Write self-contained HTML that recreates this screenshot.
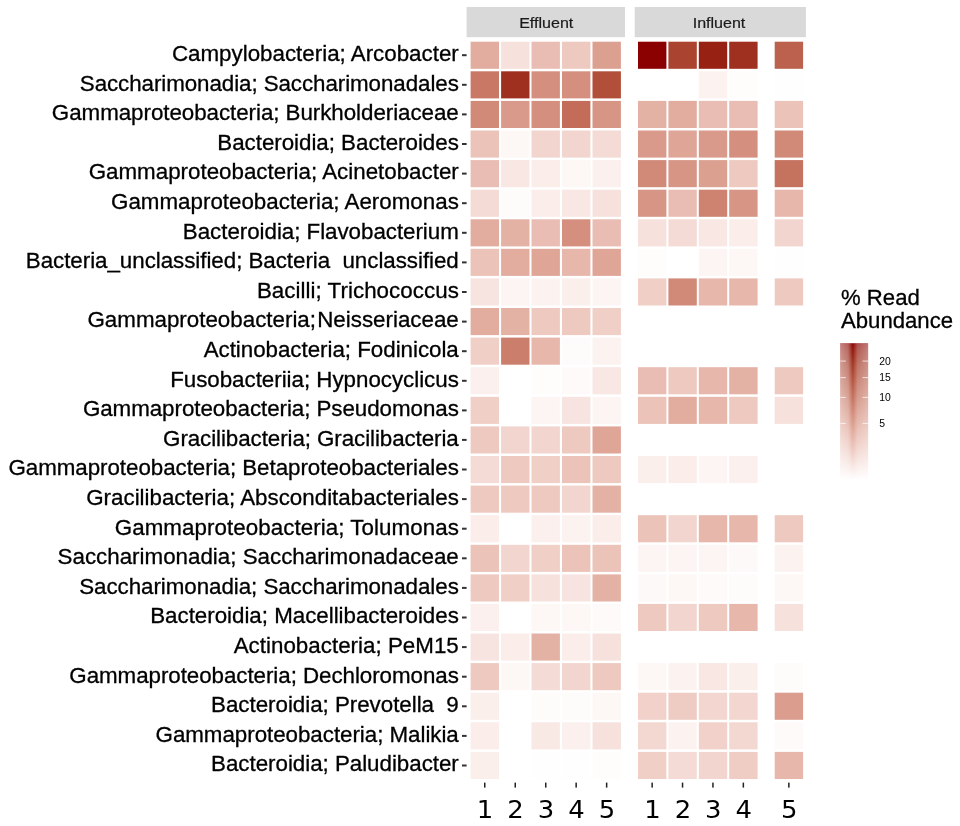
<!DOCTYPE html>
<html lang="en">
<head>
<meta charset="utf-8">
<title>Heatmap</title>
<style>
html,body{margin:0;padding:0;background:#fff;}
body{width:960px;height:826px;overflow:hidden;}
svg{display:block;}
text{font-family:"Liberation Sans",Arial,Helvetica,sans-serif;fill:#000;}
.yl{font-size:22.35px;white-space:pre;text-anchor:end;stroke:#000;stroke-width:0.3px;}
.st{font-size:15.3px;text-anchor:middle;fill:#1a1a1a;stroke:#1a1a1a;stroke-width:0.2px;}
.xl{font-family:"DejaVu Sans",Verdana,sans-serif;font-size:24px;text-anchor:middle;}
.lt{font-size:22.15px;stroke:#000;stroke-width:0.3px;}
.lk{font-size:10.4px;}
</style>
</head>
<body>
<svg width="960" height="826" viewBox="0 0 960 826">
<defs><linearGradient id="lg" x1="0" y1="1" x2="0" y2="0"><stop offset="0.000" stop-color="#FFFFFF"/><stop offset="0.050" stop-color="#FCF3F1"/><stop offset="0.100" stop-color="#F8E7E3"/><stop offset="0.150" stop-color="#F4DBD5"/><stop offset="0.200" stop-color="#F0CFC7"/><stop offset="0.250" stop-color="#EBC3B9"/><stop offset="0.300" stop-color="#E7B7AC"/><stop offset="0.350" stop-color="#E2AC9F"/><stop offset="0.400" stop-color="#DCA091"/><stop offset="0.450" stop-color="#D79585"/><stop offset="0.500" stop-color="#D18978"/><stop offset="0.550" stop-color="#CB7E6B"/><stop offset="0.600" stop-color="#C5725F"/><stop offset="0.650" stop-color="#BF6753"/><stop offset="0.700" stop-color="#B85B47"/><stop offset="0.750" stop-color="#B14F3B"/><stop offset="0.800" stop-color="#AA4330"/><stop offset="0.850" stop-color="#A23724"/><stop offset="0.900" stop-color="#9B2919"/><stop offset="0.950" stop-color="#93190D"/><stop offset="1.000" stop-color="#8B0000"/></linearGradient><linearGradient id="lh" x1="0" y1="0" x2="1" y2="0"><stop offset="0" stop-color="#fff" stop-opacity="0.5"/><stop offset="0.28" stop-color="#fff" stop-opacity="0.36"/><stop offset="0.45" stop-color="#fff" stop-opacity="0"/><stop offset="0.62" stop-color="#fff" stop-opacity="0.3"/><stop offset="1" stop-color="#fff" stop-opacity="0.46"/></linearGradient></defs>
<rect x="0" y="0" width="960" height="826" fill="#fff"/>
<rect x="466.6" y="7" width="158.4" height="30.2" fill="#D9D9D9"/>
<rect x="634.7" y="7" width="171.2" height="30.2" fill="#D9D9D9"/>
<text class="st" transform="translate(546.2,27.9) scale(1.05,1)">Effluent</text>
<text class="st" transform="translate(719.0,27.9) scale(1.05,1)">Influent</text>
<g>
<text class="yl" x="458.8" y="61.0" textLength="286.89" lengthAdjust="spacing" xml:space="preserve">Campylobacteria; Arcobacter</text>
<rect x="462" y="54.2" width="4.6" height="2" fill="#333"/>
<text class="yl" x="458.8" y="90.6" textLength="379.00" lengthAdjust="spacing" xml:space="preserve">Saccharimonadia; Saccharimonadales</text>
<rect x="462" y="83.8" width="4.6" height="2" fill="#333"/>
<text class="yl" x="458.8" y="120.2" textLength="406.93" lengthAdjust="spacing" xml:space="preserve">Gammaproteobacteria; Burkholderiaceae</text>
<rect x="462" y="113.4" width="4.6" height="2" fill="#333"/>
<text class="yl" x="458.8" y="149.8" textLength="241.50" lengthAdjust="spacing" xml:space="preserve">Bacteroidia; Bacteroides</text>
<rect x="462" y="143.0" width="4.6" height="2" fill="#333"/>
<text class="yl" x="458.8" y="179.4" textLength="370.12" lengthAdjust="spacing" xml:space="preserve">Gammaproteobacteria; Acinetobacter</text>
<rect x="462" y="172.6" width="4.6" height="2" fill="#333"/>
<text class="yl" x="458.8" y="209.0" textLength="347.75" lengthAdjust="spacing" xml:space="preserve">Gammaproteobacteria; Aeromonas</text>
<rect x="462" y="202.2" width="4.6" height="2" fill="#333"/>
<text class="yl" x="458.8" y="238.6" textLength="275.95" lengthAdjust="spacing" xml:space="preserve">Bacteroidia; Flavobacterium</text>
<rect x="462" y="231.8" width="4.6" height="2" fill="#333"/>
<text class="yl" x="458.8" y="268.2" textLength="433.00" lengthAdjust="spacing" xml:space="preserve">Bacteria_unclassified; Bacteria  unclassified</text>
<rect x="462" y="261.4" width="4.6" height="2" fill="#333"/>
<text class="yl" x="458.8" y="297.8" textLength="201.87" lengthAdjust="spacing" xml:space="preserve">Bacilli; Trichococcus</text>
<rect x="462" y="291.0" width="4.6" height="2" fill="#333"/>
<text class="yl" x="458.8" y="327.4" xml:space="preserve">Gammaproteobacteria; <tspan dx="-5.0">Neisseriaceae</tspan></text>
<rect x="462" y="320.6" width="4.6" height="2" fill="#333"/>
<text class="yl" x="458.8" y="357.0" textLength="255.16" lengthAdjust="spacing" xml:space="preserve">Actinobacteria; Fodinicola</text>
<rect x="462" y="350.2" width="4.6" height="2" fill="#333"/>
<text class="yl" x="458.8" y="386.6" textLength="288.66" lengthAdjust="spacing" xml:space="preserve">Fusobacteriia; Hypnocyclicus</text>
<rect x="462" y="379.8" width="4.6" height="2" fill="#333"/>
<text class="yl" x="458.8" y="416.2" textLength="375.88" lengthAdjust="spacing" xml:space="preserve">Gammaproteobacteria; Pseudomonas</text>
<rect x="462" y="409.4" width="4.6" height="2" fill="#333"/>
<text class="yl" x="458.8" y="445.7" textLength="295.73" lengthAdjust="spacing" xml:space="preserve">Gracilibacteria; Gracilibacteria</text>
<rect x="462" y="438.9" width="4.6" height="2" fill="#333"/>
<text class="yl" x="458.8" y="475.3" textLength="450.39" lengthAdjust="spacing" xml:space="preserve">Gammaproteobacteria; Betaproteobacteriales</text>
<rect x="462" y="468.5" width="4.6" height="2" fill="#333"/>
<text class="yl" x="458.8" y="504.9" textLength="372.59" lengthAdjust="spacing" xml:space="preserve">Gracilibacteria; Absconditabacteriales</text>
<rect x="462" y="498.1" width="4.6" height="2" fill="#333"/>
<text class="yl" x="458.8" y="534.5" textLength="344.07" lengthAdjust="spacing" xml:space="preserve">Gammaproteobacteria; Tolumonas</text>
<rect x="462" y="527.7" width="4.6" height="2" fill="#333"/>
<text class="yl" x="458.8" y="564.1" textLength="401.19" lengthAdjust="spacing" xml:space="preserve">Saccharimonadia; Saccharimonadaceae</text>
<rect x="462" y="557.3" width="4.6" height="2" fill="#333"/>
<text class="yl" x="458.8" y="593.7" textLength="379.60" lengthAdjust="spacing" xml:space="preserve">Saccharimonadia; Saccharimonadales</text>
<rect x="462" y="586.9" width="4.6" height="2" fill="#333"/>
<text class="yl" x="458.8" y="623.3" textLength="308.55" lengthAdjust="spacing" xml:space="preserve">Bacteroidia; Macellibacteroides</text>
<rect x="462" y="616.5" width="4.6" height="2" fill="#333"/>
<text class="yl" x="458.8" y="652.9" textLength="225.11" lengthAdjust="spacing" xml:space="preserve">Actinobacteria; PeM15</text>
<rect x="462" y="646.1" width="4.6" height="2" fill="#333"/>
<text class="yl" x="458.8" y="682.5" textLength="389.50" lengthAdjust="spacing" xml:space="preserve">Gammaproteobacteria; Dechloromonas</text>
<rect x="462" y="675.7" width="4.6" height="2" fill="#333"/>
<text class="yl" x="458.8" y="712.1" textLength="247.71" lengthAdjust="spacing" xml:space="preserve">Bacteroidia; Prevotella  9</text>
<rect x="462" y="705.3" width="4.6" height="2" fill="#333"/>
<text class="yl" x="458.8" y="741.7" textLength="303.25" lengthAdjust="spacing" xml:space="preserve">Gammaproteobacteria; Malikia</text>
<rect x="462" y="734.9" width="4.6" height="2" fill="#333"/>
<text class="yl" x="458.8" y="771.3" textLength="247.72" lengthAdjust="spacing" xml:space="preserve">Bacteroidia; Paludibacter</text>
<rect x="462" y="764.5" width="4.6" height="2" fill="#333"/>
</g>
<g>
<rect x="470.6" y="41.7" width="28.4" height="27.1" fill="#E2AC9F"/><rect x="501.1" y="41.7" width="28.4" height="27.1" fill="#F6E1DC"/><rect x="531.5" y="41.7" width="28.4" height="27.1" fill="#E9BDB3"/><rect x="562.0" y="41.7" width="28.4" height="27.1" fill="#EEC9C0"/><rect x="592.5" y="41.7" width="28.4" height="27.1" fill="#DCA091"/><rect x="638.0" y="41.7" width="28.4" height="27.1" fill="#8B0000"/><rect x="668.4" y="41.7" width="28.4" height="27.1" fill="#AA4330"/><rect x="698.8" y="41.7" width="28.4" height="27.1" fill="#972213"/><rect x="729.2" y="41.7" width="28.4" height="27.1" fill="#9F301F"/><rect x="774.7" y="41.7" width="28.4" height="27.1" fill="#BB614D"/>
<rect x="470.6" y="71.3" width="28.4" height="27.1" fill="#C87865"/><rect x="501.1" y="71.3" width="28.4" height="27.1" fill="#9F301F"/><rect x="531.5" y="71.3" width="28.4" height="27.1" fill="#D48F7E"/><rect x="562.0" y="71.3" width="28.4" height="27.1" fill="#D48F7E"/><rect x="592.5" y="71.3" width="28.4" height="27.1" fill="#B14F3B"/><rect x="698.8" y="71.3" width="28.4" height="27.1" fill="#FCF3F1"/><rect x="729.2" y="71.3" width="28.4" height="27.1" fill="#FEFDFC"/><rect x="774.7" y="71.3" width="28.4" height="27.1" fill="#FFFEFE"/>
<rect x="470.6" y="100.9" width="28.4" height="27.1" fill="#D18978"/><rect x="501.1" y="100.9" width="28.4" height="27.1" fill="#DA9A8B"/><rect x="531.5" y="100.9" width="28.4" height="27.1" fill="#D48F7E"/><rect x="562.0" y="100.9" width="28.4" height="27.1" fill="#C26C59"/><rect x="592.5" y="100.9" width="28.4" height="27.1" fill="#D79585"/><rect x="638.0" y="100.9" width="28.4" height="27.1" fill="#E4B2A5"/><rect x="668.4" y="100.9" width="28.4" height="27.1" fill="#E2AC9F"/><rect x="698.8" y="100.9" width="28.4" height="27.1" fill="#E9BDB3"/><rect x="729.2" y="100.9" width="28.4" height="27.1" fill="#E9BDB3"/><rect x="774.7" y="100.9" width="28.4" height="27.1" fill="#EBC3B9"/>
<rect x="470.6" y="130.5" width="28.4" height="27.1" fill="#EBC3B9"/><rect x="501.1" y="130.5" width="28.4" height="27.1" fill="#FDF7F5"/><rect x="531.5" y="130.5" width="28.4" height="27.1" fill="#F2D5CE"/><rect x="562.0" y="130.5" width="28.4" height="27.1" fill="#F2D5CE"/><rect x="592.5" y="130.5" width="28.4" height="27.1" fill="#F4DBD5"/><rect x="638.0" y="130.5" width="28.4" height="27.1" fill="#DA9A8B"/><rect x="668.4" y="130.5" width="28.4" height="27.1" fill="#DFA698"/><rect x="698.8" y="130.5" width="28.4" height="27.1" fill="#DA9A8B"/><rect x="729.2" y="130.5" width="28.4" height="27.1" fill="#D48F7E"/><rect x="774.7" y="130.5" width="28.4" height="27.1" fill="#D18978"/>
<rect x="470.6" y="160.1" width="28.4" height="27.1" fill="#E9BDB3"/><rect x="501.1" y="160.1" width="28.4" height="27.1" fill="#F8E7E3"/><rect x="531.5" y="160.1" width="28.4" height="27.1" fill="#FAEDEA"/><rect x="562.0" y="160.1" width="28.4" height="27.1" fill="#FDF7F5"/><rect x="592.5" y="160.1" width="28.4" height="27.1" fill="#FBF0EE"/><rect x="638.0" y="160.1" width="28.4" height="27.1" fill="#D18978"/><rect x="668.4" y="160.1" width="28.4" height="27.1" fill="#D79585"/><rect x="698.8" y="160.1" width="28.4" height="27.1" fill="#DCA091"/><rect x="729.2" y="160.1" width="28.4" height="27.1" fill="#EEC9C0"/><rect x="774.7" y="160.1" width="28.4" height="27.1" fill="#C5725F"/>
<rect x="470.6" y="189.7" width="28.4" height="27.1" fill="#F4DBD5"/><rect x="501.1" y="189.7" width="28.4" height="27.1" fill="#FEFBFB"/><rect x="531.5" y="189.7" width="28.4" height="27.1" fill="#FAEDEA"/><rect x="562.0" y="189.7" width="28.4" height="27.1" fill="#F8E7E3"/><rect x="592.5" y="189.7" width="28.4" height="27.1" fill="#F6E1DC"/><rect x="638.0" y="189.7" width="28.4" height="27.1" fill="#D79585"/><rect x="668.4" y="189.7" width="28.4" height="27.1" fill="#E9BDB3"/><rect x="698.8" y="189.7" width="28.4" height="27.1" fill="#CE8371"/><rect x="729.2" y="189.7" width="28.4" height="27.1" fill="#D79585"/><rect x="774.7" y="189.7" width="28.4" height="27.1" fill="#E7B7AC"/>
<rect x="470.6" y="219.3" width="28.4" height="27.1" fill="#E2AC9F"/><rect x="501.1" y="219.3" width="28.4" height="27.1" fill="#E4B2A5"/><rect x="531.5" y="219.3" width="28.4" height="27.1" fill="#E9BDB3"/><rect x="562.0" y="219.3" width="28.4" height="27.1" fill="#D48F7E"/><rect x="592.5" y="219.3" width="28.4" height="27.1" fill="#E9BDB3"/><rect x="638.0" y="219.3" width="28.4" height="27.1" fill="#F6E1DC"/><rect x="668.4" y="219.3" width="28.4" height="27.1" fill="#F4DBD5"/><rect x="698.8" y="219.3" width="28.4" height="27.1" fill="#F8E7E3"/><rect x="729.2" y="219.3" width="28.4" height="27.1" fill="#FAEDEA"/><rect x="774.7" y="219.3" width="28.4" height="27.1" fill="#F2D5CE"/>
<rect x="470.6" y="248.8" width="28.4" height="27.1" fill="#EBC3B9"/><rect x="501.1" y="248.8" width="28.4" height="27.1" fill="#E2AC9F"/><rect x="531.5" y="248.8" width="28.4" height="27.1" fill="#DFA698"/><rect x="562.0" y="248.8" width="28.4" height="27.1" fill="#E7B7AC"/><rect x="592.5" y="248.8" width="28.4" height="27.1" fill="#DFA698"/><rect x="638.0" y="248.8" width="28.4" height="27.1" fill="#FEFDFC"/><rect x="698.8" y="248.8" width="28.4" height="27.1" fill="#FCF5F4"/><rect x="729.2" y="248.8" width="28.4" height="27.1" fill="#FDF8F6"/><rect x="774.7" y="248.8" width="28.4" height="27.1" fill="#FFFEFE"/>
<rect x="470.6" y="278.4" width="28.4" height="27.1" fill="#F7E4E0"/><rect x="501.1" y="278.4" width="28.4" height="27.1" fill="#FCF5F4"/><rect x="531.5" y="278.4" width="28.4" height="27.1" fill="#FCF3F1"/><rect x="562.0" y="278.4" width="28.4" height="27.1" fill="#FBEFEC"/><rect x="592.5" y="278.4" width="28.4" height="27.1" fill="#FCF5F4"/><rect x="638.0" y="278.4" width="28.4" height="27.1" fill="#F0CFC7"/><rect x="668.4" y="278.4" width="28.4" height="27.1" fill="#D18978"/><rect x="698.8" y="278.4" width="28.4" height="27.1" fill="#E7B7AC"/><rect x="729.2" y="278.4" width="28.4" height="27.1" fill="#E7B7AC"/><rect x="774.7" y="278.4" width="28.4" height="27.1" fill="#EEC9C0"/>
<rect x="470.6" y="308.0" width="28.4" height="27.1" fill="#E2AC9F"/><rect x="501.1" y="308.0" width="28.4" height="27.1" fill="#E4B2A5"/><rect x="531.5" y="308.0" width="28.4" height="27.1" fill="#EEC9C0"/><rect x="562.0" y="308.0" width="28.4" height="27.1" fill="#EEC9C0"/><rect x="592.5" y="308.0" width="28.4" height="27.1" fill="#F0CFC7"/>
<rect x="470.6" y="337.6" width="28.4" height="27.1" fill="#F0CFC7"/><rect x="501.1" y="337.6" width="28.4" height="27.1" fill="#CB7E6B"/><rect x="531.5" y="337.6" width="28.4" height="27.1" fill="#E7B7AC"/><rect x="562.0" y="337.6" width="28.4" height="27.1" fill="#FEFBFB"/><rect x="592.5" y="337.6" width="28.4" height="27.1" fill="#FCF3F1"/>
<rect x="470.6" y="367.2" width="28.4" height="27.1" fill="#FBF0EE"/><rect x="531.5" y="367.2" width="28.4" height="27.1" fill="#FEFDFC"/><rect x="562.0" y="367.2" width="28.4" height="27.1" fill="#FEFAF9"/><rect x="592.5" y="367.2" width="28.4" height="27.1" fill="#F8E7E3"/><rect x="638.0" y="367.2" width="28.4" height="27.1" fill="#E9BDB3"/><rect x="668.4" y="367.2" width="28.4" height="27.1" fill="#EEC9C0"/><rect x="698.8" y="367.2" width="28.4" height="27.1" fill="#E7B7AC"/><rect x="729.2" y="367.2" width="28.4" height="27.1" fill="#E4B2A5"/><rect x="774.7" y="367.2" width="28.4" height="27.1" fill="#EEC9C0"/>
<rect x="470.6" y="396.8" width="28.4" height="27.1" fill="#F0CFC7"/><rect x="531.5" y="396.8" width="28.4" height="27.1" fill="#FCF5F4"/><rect x="562.0" y="396.8" width="28.4" height="27.1" fill="#F7E4E0"/><rect x="592.5" y="396.8" width="28.4" height="27.1" fill="#FCF5F4"/><rect x="638.0" y="396.8" width="28.4" height="27.1" fill="#EBC3B9"/><rect x="668.4" y="396.8" width="28.4" height="27.1" fill="#E2AC9F"/><rect x="698.8" y="396.8" width="28.4" height="27.1" fill="#E7B7AC"/><rect x="729.2" y="396.8" width="28.4" height="27.1" fill="#EEC9C0"/><rect x="774.7" y="396.8" width="28.4" height="27.1" fill="#F6E1DC"/>
<rect x="470.6" y="426.4" width="28.4" height="27.1" fill="#EEC9C0"/><rect x="501.1" y="426.4" width="28.4" height="27.1" fill="#F2D5CE"/><rect x="531.5" y="426.4" width="28.4" height="27.1" fill="#F2D5CE"/><rect x="562.0" y="426.4" width="28.4" height="27.1" fill="#EEC9C0"/><rect x="592.5" y="426.4" width="28.4" height="27.1" fill="#DFA698"/>
<rect x="470.6" y="456.0" width="28.4" height="27.1" fill="#F4DBD5"/><rect x="501.1" y="456.0" width="28.4" height="27.1" fill="#EEC9C0"/><rect x="531.5" y="456.0" width="28.4" height="27.1" fill="#F0CFC7"/><rect x="562.0" y="456.0" width="28.4" height="27.1" fill="#EBC3B9"/><rect x="592.5" y="456.0" width="28.4" height="27.1" fill="#EEC9C0"/><rect x="638.0" y="456.0" width="28.4" height="27.1" fill="#FBEFEC"/><rect x="668.4" y="456.0" width="28.4" height="27.1" fill="#FAEDEA"/><rect x="698.8" y="456.0" width="28.4" height="27.1" fill="#FCF5F4"/><rect x="729.2" y="456.0" width="28.4" height="27.1" fill="#FBF0EE"/>
<rect x="470.6" y="485.6" width="28.4" height="27.1" fill="#EEC9C0"/><rect x="501.1" y="485.6" width="28.4" height="27.1" fill="#EEC9C0"/><rect x="531.5" y="485.6" width="28.4" height="27.1" fill="#EEC9C0"/><rect x="562.0" y="485.6" width="28.4" height="27.1" fill="#F2D5CE"/><rect x="592.5" y="485.6" width="28.4" height="27.1" fill="#E4B2A5"/>
<rect x="470.6" y="515.2" width="28.4" height="27.1" fill="#FAEDEA"/><rect x="531.5" y="515.2" width="28.4" height="27.1" fill="#FBF0EE"/><rect x="562.0" y="515.2" width="28.4" height="27.1" fill="#FCF3F1"/><rect x="592.5" y="515.2" width="28.4" height="27.1" fill="#FAEDEA"/><rect x="638.0" y="515.2" width="28.4" height="27.1" fill="#EBC3B9"/><rect x="668.4" y="515.2" width="28.4" height="27.1" fill="#F2D5CE"/><rect x="698.8" y="515.2" width="28.4" height="27.1" fill="#E7B7AC"/><rect x="729.2" y="515.2" width="28.4" height="27.1" fill="#E7B7AC"/><rect x="774.7" y="515.2" width="28.4" height="27.1" fill="#EEC9C0"/>
<rect x="470.6" y="544.8" width="28.4" height="27.1" fill="#EBC3B9"/><rect x="501.1" y="544.8" width="28.4" height="27.1" fill="#F2D5CE"/><rect x="531.5" y="544.8" width="28.4" height="27.1" fill="#F0CFC7"/><rect x="562.0" y="544.8" width="28.4" height="27.1" fill="#EBC3B9"/><rect x="592.5" y="544.8" width="28.4" height="27.1" fill="#EBC3B9"/><rect x="638.0" y="544.8" width="28.4" height="27.1" fill="#FCF5F4"/><rect x="668.4" y="544.8" width="28.4" height="27.1" fill="#FCF5F4"/><rect x="698.8" y="544.8" width="28.4" height="27.1" fill="#FCF5F4"/><rect x="729.2" y="544.8" width="28.4" height="27.1" fill="#FDF9F8"/><rect x="774.7" y="544.8" width="28.4" height="27.1" fill="#FCF3F1"/>
<rect x="470.6" y="574.4" width="28.4" height="27.1" fill="#EEC9C0"/><rect x="501.1" y="574.4" width="28.4" height="27.1" fill="#F0CFC7"/><rect x="531.5" y="574.4" width="28.4" height="27.1" fill="#F6E1DC"/><rect x="562.0" y="574.4" width="28.4" height="27.1" fill="#F7E4E0"/><rect x="592.5" y="574.4" width="28.4" height="27.1" fill="#E4B2A5"/><rect x="638.0" y="574.4" width="28.4" height="27.1" fill="#FDF9F8"/><rect x="668.4" y="574.4" width="28.4" height="27.1" fill="#FDF8F6"/><rect x="698.8" y="574.4" width="28.4" height="27.1" fill="#FEFAF9"/><rect x="729.2" y="574.4" width="28.4" height="27.1" fill="#FEFBFB"/><rect x="774.7" y="574.4" width="28.4" height="27.1" fill="#FDF8F6"/>
<rect x="470.6" y="603.9" width="28.4" height="27.1" fill="#FBF0EE"/><rect x="531.5" y="603.9" width="28.4" height="27.1" fill="#FDF8F6"/><rect x="562.0" y="603.9" width="28.4" height="27.1" fill="#FDF8F6"/><rect x="592.5" y="603.9" width="28.4" height="27.1" fill="#FEFAF9"/><rect x="638.0" y="603.9" width="28.4" height="27.1" fill="#EEC9C0"/><rect x="668.4" y="603.9" width="28.4" height="27.1" fill="#F2D5CE"/><rect x="698.8" y="603.9" width="28.4" height="27.1" fill="#EEC9C0"/><rect x="729.2" y="603.9" width="28.4" height="27.1" fill="#E7B7AC"/><rect x="774.7" y="603.9" width="28.4" height="27.1" fill="#F6E1DC"/>
<rect x="470.6" y="633.5" width="28.4" height="27.1" fill="#F7E4E0"/><rect x="501.1" y="633.5" width="28.4" height="27.1" fill="#FAEDEA"/><rect x="531.5" y="633.5" width="28.4" height="27.1" fill="#E4B2A5"/><rect x="562.0" y="633.5" width="28.4" height="27.1" fill="#FAEDEA"/><rect x="592.5" y="633.5" width="28.4" height="27.1" fill="#F6E1DC"/>
<rect x="470.6" y="663.1" width="28.4" height="27.1" fill="#EEC9C0"/><rect x="501.1" y="663.1" width="28.4" height="27.1" fill="#FDF7F5"/><rect x="531.5" y="663.1" width="28.4" height="27.1" fill="#F4DBD5"/><rect x="562.0" y="663.1" width="28.4" height="27.1" fill="#F2D5CE"/><rect x="592.5" y="663.1" width="28.4" height="27.1" fill="#EEC9C0"/><rect x="638.0" y="663.1" width="28.4" height="27.1" fill="#FDF8F6"/><rect x="668.4" y="663.1" width="28.4" height="27.1" fill="#FCF3F1"/><rect x="698.8" y="663.1" width="28.4" height="27.1" fill="#F8E7E3"/><rect x="729.2" y="663.1" width="28.4" height="27.1" fill="#FBEFEC"/><rect x="774.7" y="663.1" width="28.4" height="27.1" fill="#FEFBFB"/>
<rect x="470.6" y="692.7" width="28.4" height="27.1" fill="#FBEFEC"/><rect x="531.5" y="692.7" width="28.4" height="27.1" fill="#FEFBFB"/><rect x="562.0" y="692.7" width="28.4" height="27.1" fill="#FEFBFB"/><rect x="592.5" y="692.7" width="28.4" height="27.1" fill="#FDF8F6"/><rect x="638.0" y="692.7" width="28.4" height="27.1" fill="#F1D1CA"/><rect x="668.4" y="692.7" width="28.4" height="27.1" fill="#EECBC3"/><rect x="698.8" y="692.7" width="28.4" height="27.1" fill="#F2D6CF"/><rect x="729.2" y="692.7" width="28.4" height="27.1" fill="#F2D6CF"/><rect x="774.7" y="692.7" width="28.4" height="27.1" fill="#DB9D8E"/>
<rect x="470.6" y="722.3" width="28.4" height="27.1" fill="#FAEDEA"/><rect x="531.5" y="722.3" width="28.4" height="27.1" fill="#F9E9E5"/><rect x="562.0" y="722.3" width="28.4" height="27.1" fill="#FBF0EE"/><rect x="592.5" y="722.3" width="28.4" height="27.1" fill="#F6E1DC"/><rect x="638.0" y="722.3" width="28.4" height="27.1" fill="#F3D7D1"/><rect x="668.4" y="722.3" width="28.4" height="27.1" fill="#FCF3F1"/><rect x="698.8" y="722.3" width="28.4" height="27.1" fill="#F1D1CA"/><rect x="729.2" y="722.3" width="28.4" height="27.1" fill="#F3D7D1"/><rect x="774.7" y="722.3" width="28.4" height="27.1" fill="#FEFAF9"/>
<rect x="470.6" y="751.9" width="28.4" height="27.1" fill="#FBEFEC"/><rect x="531.5" y="751.9" width="28.4" height="27.1" fill="#FFFEFE"/><rect x="562.0" y="751.9" width="28.4" height="27.1" fill="#FFFEFE"/><rect x="592.5" y="751.9" width="28.4" height="27.1" fill="#FEFDFC"/><rect x="638.0" y="751.9" width="28.4" height="27.1" fill="#F0CFC7"/><rect x="668.4" y="751.9" width="28.4" height="27.1" fill="#F4DBD5"/><rect x="698.8" y="751.9" width="28.4" height="27.1" fill="#F2D5CE"/><rect x="729.2" y="751.9" width="28.4" height="27.1" fill="#EFCDC4"/><rect x="774.7" y="751.9" width="28.4" height="27.1" fill="#E7B7AC"/>
</g>
<g>
<rect x="484.0" y="782.6" width="1.5" height="5" fill="#222"/><text class="xl" transform="translate(485.1,817.6) scale(1.08,1)">1</text>
<rect x="514.5" y="782.6" width="1.5" height="5" fill="#222"/><text class="xl" transform="translate(515.5,817.6) scale(1.08,1)">2</text>
<rect x="545.0" y="782.6" width="1.5" height="5" fill="#222"/><text class="xl" transform="translate(546.0,817.6) scale(1.08,1)">3</text>
<rect x="575.4" y="782.6" width="1.5" height="5" fill="#222"/><text class="xl" transform="translate(576.5,817.6) scale(1.08,1)">4</text>
<rect x="605.9" y="782.6" width="1.5" height="5" fill="#222"/><text class="xl" transform="translate(607.0,817.6) scale(1.08,1)">5</text>
<rect x="651.4" y="782.6" width="1.5" height="5" fill="#222"/><text class="xl" transform="translate(652.5,817.6) scale(1.08,1)">1</text>
<rect x="681.8" y="782.6" width="1.5" height="5" fill="#222"/><text class="xl" transform="translate(682.9,817.6) scale(1.08,1)">2</text>
<rect x="712.2" y="782.6" width="1.5" height="5" fill="#222"/><text class="xl" transform="translate(713.3,817.6) scale(1.08,1)">3</text>
<rect x="742.6" y="782.6" width="1.5" height="5" fill="#222"/><text class="xl" transform="translate(743.7,817.6) scale(1.08,1)">4</text>
<rect x="788.1" y="782.6" width="1.5" height="5" fill="#222"/><text class="xl" transform="translate(789.2,817.6) scale(1.08,1)">5</text>
</g>
<text class="lt" x="841" y="304.6">% Read</text>
<text class="lt" x="841" y="328">Abundance</text>
<rect x="840.3" y="343.2" width="27.8" height="137" fill="url(#lg)"/>
<rect x="840.3" y="343.2" width="27.8" height="137" fill="url(#lh)"/>
<rect x="840.3" y="360.6" width="5.6" height="0.9" fill="#fff" fill-opacity="0.8"/><rect x="862.5" y="360.6" width="5.6" height="0.9" fill="#fff" fill-opacity="0.8"/><text class="lk" x="879.2" y="364.7">20</text>
<rect x="840.3" y="377.2" width="5.6" height="0.9" fill="#fff" fill-opacity="0.8"/><rect x="862.5" y="377.2" width="5.6" height="0.9" fill="#fff" fill-opacity="0.8"/><text class="lk" x="879.2" y="381.3">15</text>
<rect x="840.3" y="396.9" width="5.6" height="0.9" fill="#fff" fill-opacity="0.8"/><rect x="862.5" y="396.9" width="5.6" height="0.9" fill="#fff" fill-opacity="0.8"/><text class="lk" x="879.2" y="401.0">10</text>
<rect x="840.3" y="422.9" width="5.6" height="0.9" fill="#fff" fill-opacity="0.8"/><rect x="862.5" y="422.9" width="5.6" height="0.9" fill="#fff" fill-opacity="0.8"/><text class="lk" x="879.2" y="427.1">5</text>
</svg>
</body>
</html>
